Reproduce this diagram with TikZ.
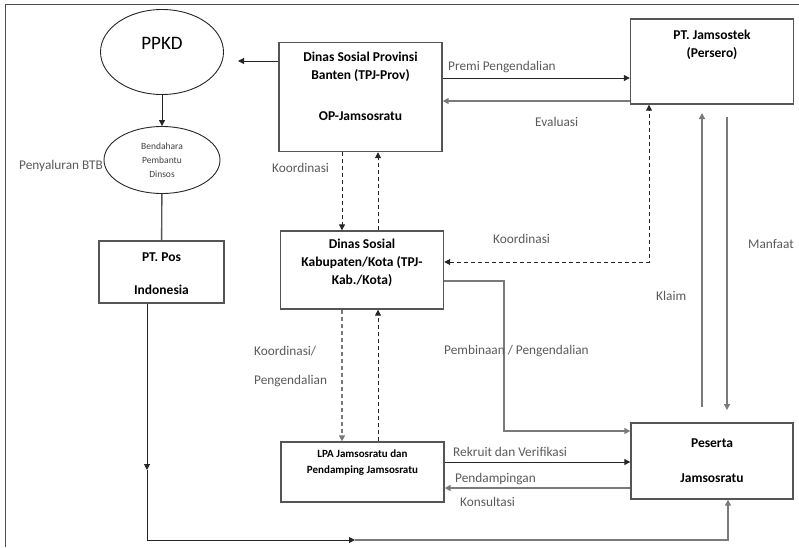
\documentclass[tikz,border=0pt]{standalone}
\usepackage{fontspec}
\setmainfont{Carlito}
\usetikzlibrary{shapes.geometric,arrows.meta}
\definecolor{boxgray}{HTML}{555555}
\definecolor{lblgray}{HTML}{5A5A5A}
\definecolor{linegray}{HTML}{7A7A7A}
\begin{document}
\begin{tikzpicture}[x=1pt,y=-1pt,
    box/.style={draw=boxgray,line width=1.4pt,inner sep=0pt},
    boxtxt/.style={anchor=north,inner sep=0pt,align=center,
      font=\fontsize{13.5}{18}\selectfont\bfseries},
    oval/.style={ellipse,draw=black!85,line width=0.9pt,inner sep=0pt},
    lbl/.style={text=lblgray,inner sep=0pt,font=\fontsize{13.3}{15}\selectfont},
    arr/.style={draw=black!85,line width=1pt,-{Triangle[length=6pt,width=6pt]}},
    garr/.style={draw=linegray,line width=1.6pt,-{Triangle[length=6pt,width=6pt]}},
    dashln/.style={dash pattern=on 4pt off 3pt}]
  \useasboundingbox (0,0) rectangle (799,547);
  \draw[line width=0.8pt,black!70] (5,547) -- (5,4) -- (799,4);
  % ovals on the left
  \node[oval,minimum width=123pt,minimum height=85pt,
    label={[font=\fontsize{19}{19}\selectfont,yshift=9pt]center:PPKD}] (ppkd) at (162,52) {};
  \node[oval,minimum width=116pt,minimum height=67pt,align=center,
    font=\fontsize{9.5}{14}\selectfont,text=black!75] (bend) at (162,160)
    {Bendahara\\Pembantu\\Dinsos};
  \node[box,minimum width=125pt,minimum height=62pt,
    label={[boxtxt,yshift=-12pt]north:PT. Pos\\[15pt]Indonesia}] (pos) at (161.5,272) {};
  % boxes
  \node[box,minimum width=163pt,minimum height=109pt,
    label={[boxtxt,yshift=-10.5pt]north:Dinas Sosial Provinsi\\Banten (TPJ-Prov)\\[23pt]OP-Jamsosratu}] (prov) at (360.5,97) {};
  \node[box,minimum width=163pt,minimum height=85pt,
    label={[boxtxt,yshift=-11.5pt]north:PT. Jamsostek\\(Persero)}] (jams) at (712,61.5) {};
  \node[box,minimum width=163pt,minimum height=78pt,
    label={[boxtxt,yshift=-9pt]north:Dinas Sosial\\Kabupaten/Kota (TPJ-\\Kab./Kota)}] (kab) at (362,270) {};
  \node[box,minimum width=163pt,minimum height=60pt,
    label={[boxtxt,yshift=-8pt,font=\fontsize{11}{16}\selectfont\bfseries]north:LPA Jamsosratu dan\\Pendamping Jamsosratu}] (lpa) at (362.5,472) {};
  \node[box,minimum width=162pt,minimum height=76pt,
    label={[boxtxt,yshift=-16pt]north:Peserta\\[17pt]Jamsosratu}] (peserta) at (712,461) {};
  % free ends and bends
  \coordinate (ppkdin) at (238,61);
  \coordinate (premi) at (0,78);
  \coordinate (evalu) at (0,101);
  \coordinate (koordc) at (649,262);
  \coordinate (klaimb) at (702,407);
  \coordinate (klaimt) at (702,113);
  \coordinate (manft) at (727,117);
  \coordinate (manfb) at (727,410);
  \coordinate (dl) at (342,0);
  \coordinate (dr) at (378,0);
  \coordinate (pbc) at (504,431);
  \coordinate (posd) at (147,470);
  \coordinate (posc) at (147,540);
  \coordinate (posr) at (355,540);
  \coordinate (pesb) at (728,0);
  % connectors
  \draw[arr] (prov.west |- ppkdin) -- (ppkdin);
  \draw[arr] (ppkd) -- (bend);
  \draw[draw=boxgray,line width=1.4pt] (bend) -- (pos);
  \draw[arr] (prov.east |- premi) -- (jams.west |- premi);
  \draw[garr] (jams.west |- evalu) -- (prov.east |- evalu);
  \draw[arr,dashln,{Triangle[length=6pt,width=6pt]}-{Triangle[length=6pt,width=6pt]}]
    (kab.east |- koordc) -- (koordc) -- (jams.south -| koordc);
  \draw[arr,dashln] (prov.south -| dl) -- (kab.north -| dl);
  \draw[arr,dashln] (kab.north -| dr) -- (prov.south -| dr);
  \draw[garr,dashln] (kab.south -| dl) -- (lpa.north -| dl);
  \draw[arr,dashln] (lpa.north -| dr) -- (kab.south -| dr);
  \draw[garr] (klaimb) -- (klaimt);
  \draw[garr] (manft) -- (manfb);
  \draw[garr] (kab.east |- 0,281) -| (pbc) -- (peserta.west |- pbc);
  \draw[arr] (lpa.east |- 0,462) -- (peserta.west |- 0,462);
  \draw[garr] (peserta.west |- 0,488) -- (lpa.east |- 0,488);
  \draw[arr] (pos.south -| posd) -- (posd);
  \draw[arr] (posd) -- (posc) -- (posr);
  \draw[garr] (posr) -| (peserta.south -| pesb);
  % labels
  \node[lbl,anchor=west] (lpremi) at (448,67) {Premi Pengendalian};
  \node[lbl,anchor=west] (leval) at (535,122) {Evaluasi};
  \node[lbl,anchor=east] (lsalur) at (103,166) {Penyaluran BTB};
  \node[lbl,anchor=west] (lkoord1) at (272,168) {Koordinasi};
  \node[lbl,anchor=west] (lkoord2) at (493,239) {Koordinasi};
  \node[lbl,anchor=west] (lklaim) at (656,296) {Klaim};
  \node[lbl,anchor=west] (lmanf) at (748,244) {Manfaat};
  \node[lbl,anchor=west] (lkp1) at (254,351) {Koordinasi/};
  \node[lbl,anchor=west] (lkp2) at (254,381) {Pengendalian};
  \node[lbl,anchor=west] (lpemb) at (444,351) {Pembinaan / Pengendalian};
  \node[lbl,anchor=west] (lrekr) at (453,452) {Rekruit dan Verifikasi};
  \node[lbl,anchor=west] (lpend) at (455,479) {Pendampingan};
  \node[lbl,anchor=west] (lkons) at (460,502) {Konsultasi};
\end{tikzpicture}
\end{document}
